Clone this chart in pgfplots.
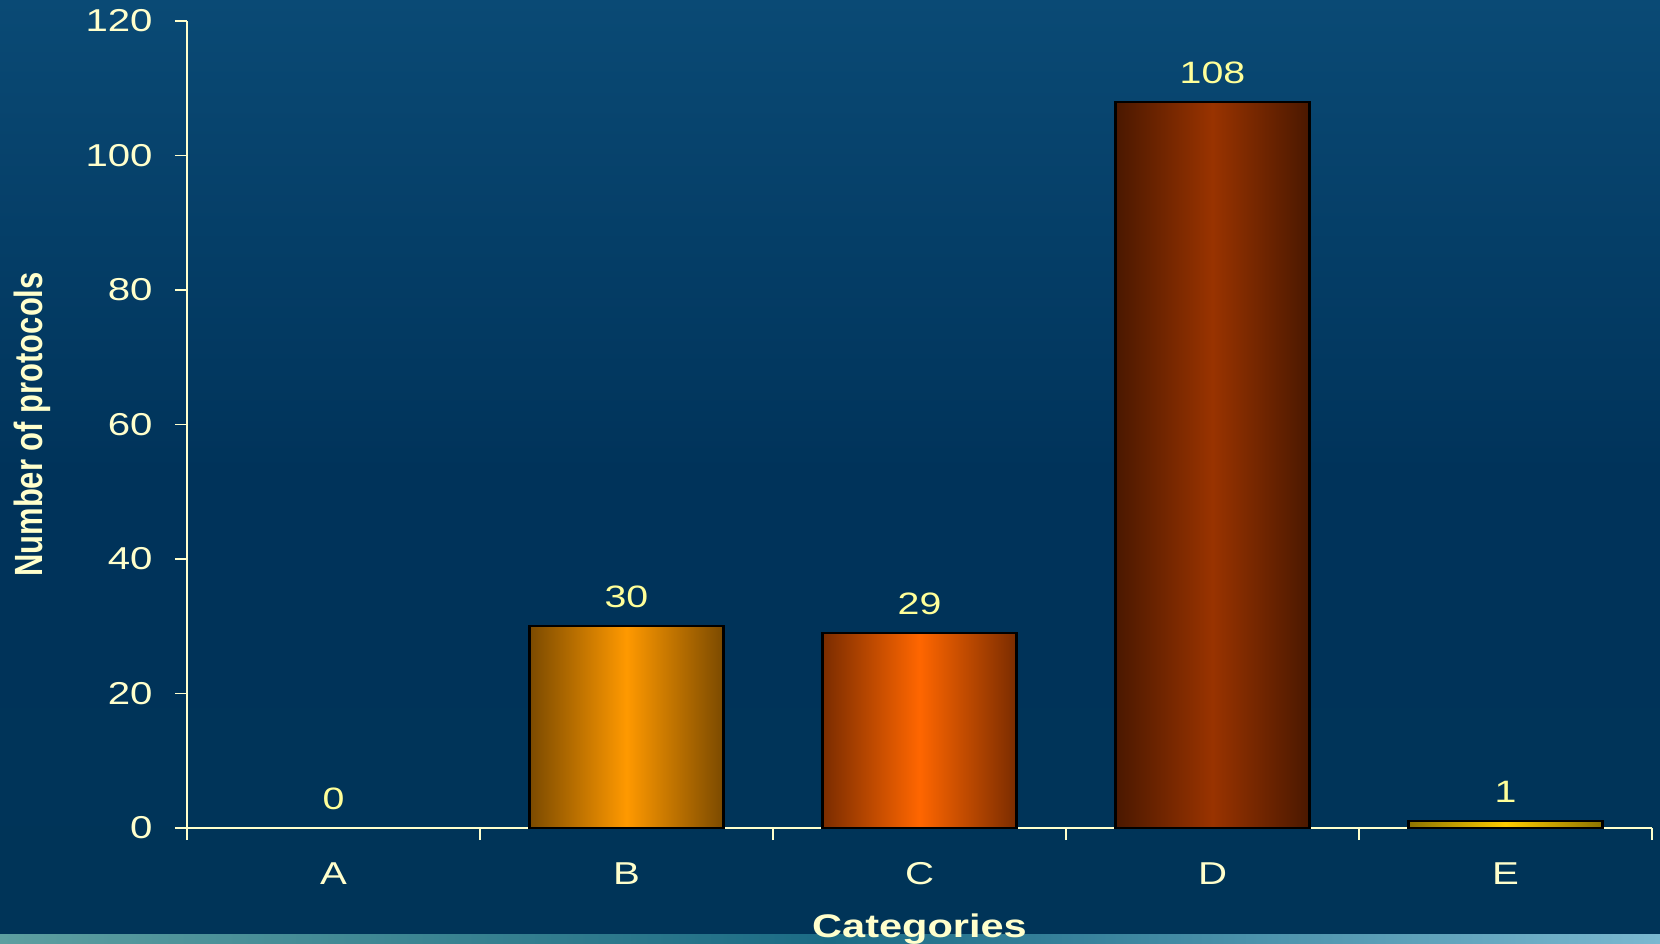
\documentclass[border=0pt]{standalone}
\usepackage{pgfplots}
\pgfplotsset{compat=1.18}
\usepackage{fontspec}
\setmainfont{Liberation Sans}[FakeStretch=1.27]
\newfontfamily\ylabfont{Liberation Sans}[FakeStretch=0.787]
\definecolor{cream}{HTML}{FFFFCC}
\definecolor{valc}{HTML}{FFFF99}
\definecolor{bgtop}{HTML}{0A4A75}
\definecolor{bgmid}{HTML}{00335A}
\definecolor{bgbot}{HTML}{003458}
\definecolor{Bdark}{HTML}{7B4A00}
\definecolor{Bbright}{HTML}{FF9900}
\definecolor{Cdark}{HTML}{7A2C00}
\definecolor{Cbright}{HTML}{FF6600}
\definecolor{Ddark}{HTML}{4A1800}
\definecolor{Dbright}{HTML}{993300}
\definecolor{Edark}{HTML}{8C7300}
\definecolor{Ebright}{HTML}{FFCC00}
\definecolor{stripL}{HTML}{5D9FA0}
\definecolor{stripM}{HTML}{1B6B85}
\definecolor{stripR}{HTML}{7AB8D0}
\begin{document}
\begin{tikzpicture}
\shade[top color=bgtop, bottom color=bgbot, middle color=bgmid] (-18.7mm,-11.5mm) rectangle (147.3mm,82.8mm);
\shade[left color=stripL, right color=stripR, middle color=stripM] (-18.7mm,-11.5mm) rectangle (147.3mm,-10.6mm);
\begin{axis}[
  scale only axis, width=146.5mm, height=80.7mm,
  xmin=-0.5, xmax=4.5, ymin=0, ymax=120,
  axis lines*=left,
  axis line style={draw=cream, line width=0.5pt},
  every tick/.append style={draw=cream, line width=0.5pt},
  tick align=outside, major tick length=1.2mm,
  xtick={-0.5,0.5,1.5,2.5,3.5,4.5},
  x tick label as interval,
  xticklabels={A,B,C,D,E},
  ytick={0,20,...,120},
  ticklabel style={font=\fontsize{9}{10}\selectfont, text=cream},
  xticklabel style={yshift=-1mm},
  yticklabel style={xshift=-1mm},
  /pgf/number format/assume math mode=true,
  xlabel={Categories}, ylabel={Number of protocols},
  every axis x label/.style={at={(axis description cs:0.5,0)}, anchor=base, yshift=-10.9mm},
  every axis y label/.style={at={(axis description cs:0,0.5)}, xshift=-15.5mm, rotate=90, anchor=center},
  xlabel style={font=\bfseries\fontsize{9.3}{11}\selectfont, text=cream},
  ylabel style={font=\ylabfont\bfseries\fontsize{11.2}{13}\selectfont, text=cream},
  bar width=19.4mm,
  nodes near coords,
  every node near coord/.append style={font=\fontsize{8.8}{10}\selectfont, text=valc, anchor=base, yshift=1.84mm},
  clip=false,
]
\addplot[ybar, bar shift=0pt, draw=none, fill=none] coordinates {(0,0)};
\addplot[ybar, bar shift=0pt, draw=black, line width=0.6pt, left color=Bdark, right color=Bdark, middle color=Bbright] coordinates {(1,30)};
\addplot[ybar, bar shift=0pt, draw=black, line width=0.6pt, left color=Cdark, right color=Cdark, middle color=Cbright] coordinates {(2,29)};
\addplot[ybar, bar shift=0pt, draw=black, line width=0.6pt, left color=Ddark, right color=Ddark, middle color=Dbright] coordinates {(3,108)};
\addplot[ybar, bar shift=0pt, draw=black, line width=0.6pt, left color=Edark, right color=Edark, middle color=Ebright] coordinates {(4,1)};
\end{axis}
\pgfresetboundingbox
\path (-18.7mm,-11.5mm) rectangle (147.3mm,82.8mm);
\end{tikzpicture}
\end{document}
